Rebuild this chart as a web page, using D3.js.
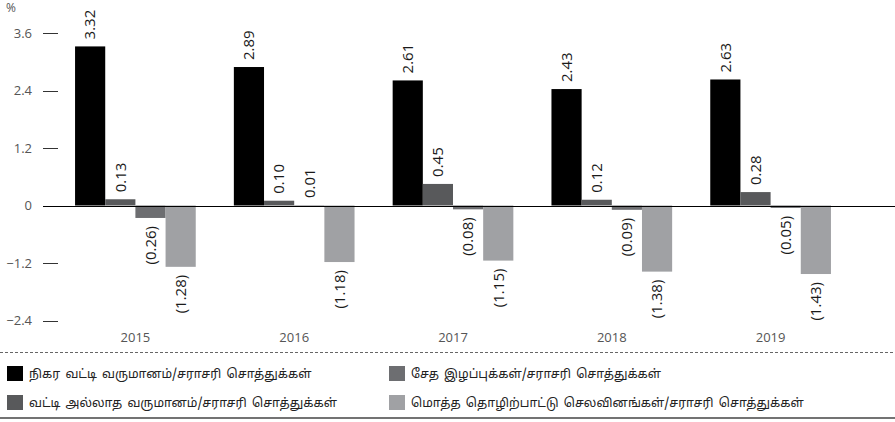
<!DOCTYPE html>
<html>
<head>
<meta charset="utf-8">
<script src="https://cdn.jsdelivr.net/npm/d3@7"></script>
<style>
  html, body { margin: 0; padding: 0; background: #fff; }
  svg { display: block; }
  .tamil { font-family: "Noto Sans Tamil", "Latha", "Lohit Tamil", "Noto Sans", sans-serif; }
</style>
</head>
<body>
<script>
// Ratios to average assets, per year
const years = ["2015", "2016", "2017", "2018", "2019"];
const netInterestIncome = [3.32, 2.89, 2.61, 2.43, 2.63];
const nonInterestIncome = [0.13, 0.10, 0.45, 0.12, 0.28];
const impairmentLosses  = [-0.26, 0.01, -0.08, -0.09, -0.05];
const operatingExpenses = [-1.28, -1.18, -1.15, -1.38, -1.43];
const yTicks = [-2.4, -1.2, 0, 1.2, 2.4, 3.6];

const seriesNames = [
  "நிகர வட்டி வருமானம்/சராசரி சொத்துக்கள்",
  "வட்டி அல்லாத வருமானம்/சராசரி சொத்துக்கள்",
  "சேத இழப்புக்கள்/சராசரி சொத்துக்கள்",
  "மொத்த தொழிற்பாட்டு செலவினங்கள்/சராசரி சொத்துக்கள்"
];
const seriesColors = ["#000000", "#58595b", "#6d6e71", "#a0a1a4"];
const seriesValues = [netInterestIncome, nonInterestIncome, impairmentLosses, operatingExpenses];

const W = 895, H = 422;
const svg = d3.select("body").append("svg").attr("width", W).attr("height", H);

const y = d3.scaleLinear().domain([-2.4, 3.6]).range([320.5, 33]);
const x0 = d3.scaleBand().domain(years).range([56, 850]).paddingInner(0.24).paddingOuter(0.12);
const x1 = d3.scaleBand().domain(d3.range(seriesValues.length)).range([0, x0.bandwidth()]).padding(0);

const numFont = "'Open Sans', 'Noto Sans', sans-serif";

// "%" unit
svg.append("text").attr("x", 6).attr("y", 12)
  .style("font-family", numFont).style("font-size", "12px").style("fill", "#555").text("%");

// Y axis ticks (short dashes left of the plot)
const yAxis = svg.append("g");
yAxis.selectAll("line").data(yTicks.filter(d => d !== 0)).join("line")
  .attr("x1", 43).attr("x2", 58)
  .attr("y1", d => Math.round(y(d)) + 0.5).attr("y2", d => Math.round(y(d)) + 0.5)
  .attr("stroke", "#333").attr("stroke-width", 1);
yAxis.selectAll("text").data(yTicks).join("text")
  .attr("x", 32).attr("y", d => y(d)).attr("dy", "0.35em")
  .attr("text-anchor", "end")
  .style("font-family", numFont).style("font-size", "13px").style("fill", "#555")
  .text(d => d === 0 ? "0" : d3.format(".1f")(d));

// Bars
const rows = years.map((yr, i) => ({ yr, vals: seriesValues.map((s, k) => ({ k, v: s[i] })) }));
const groups = svg.append("g").selectAll("g").data(rows).join("g")
  .attr("transform", d => `translate(${x0(d.yr)},0)`);

groups.selectAll("rect").data(d => d.vals).join("rect")
  .attr("x", d => x1(d.k))
  .attr("width", x1.bandwidth())
  .attr("y", d => y(Math.max(0, d.v)))
  .attr("height", d => Math.abs(y(d.v) - y(0)))
  .attr("fill", d => seriesColors[d.k]);

// Value labels, rotated
const fmt = v => v < 0 ? `(${d3.format(".2f")(-v)})` : d3.format(".2f")(v);
groups.selectAll("text").data(d => d.vals).join("text")
  .attr("transform", d => {
    const cx = x1(d.k) + x1.bandwidth() / 2;
    const cy = d.v >= 0 ? y(d.v) - 7 : y(d.v) + 8;
    return `translate(${cx},${cy}) rotate(-90)`;
  })
  .attr("dy", "0.35em")
  .attr("text-anchor", d => d.v >= 0 ? "start" : "end")
  .style("font-family", numFont).style("font-size", "15px").style("fill", "#1a1a1a")
  .text(d => fmt(d.v));

// Zero baseline
svg.append("line").attr("x1", 43).attr("x2", W)
  .attr("y1", Math.round(y(0)) + 0.5).attr("y2", Math.round(y(0)) + 0.5)
  .attr("stroke", "#000").attr("stroke-width", 1.2);

// Year labels
svg.append("g").selectAll("text").data(years).join("text")
  .attr("x", d => x0(d) + x0.bandwidth() / 2).attr("y", 342)
  .attr("text-anchor", "middle")
  .style("font-family", numFont).style("font-size", "13px").style("fill", "#555")
  .text(d => d);

// Dotted separator
svg.append("line").attr("x1", 0).attr("x2", W).attr("y1", 352.5).attr("y2", 352.5)
  .attr("stroke", "#666").attr("stroke-width", 1).attr("stroke-dasharray", "3,2");

// Legend: two columns, two rows
const legendPos = [
  { k: 0, x: 7, y: 366 },
  { k: 1, x: 7, y: 395 },
  { k: 2, x: 389, y: 366 },
  { k: 3, x: 389, y: 395 }
];
const legend = svg.append("g").selectAll("g").data(legendPos).join("g")
  .attr("transform", d => `translate(${d.x},${d.y})`);
legend.append("rect").attr("width", 16).attr("height", 15).attr("fill", d => seriesColors[d.k]);
legend.append("text").attr("class", "tamil")
  .attr("x", 22).attr("y", 7.5).attr("dy", "0.35em")
  .style("font-size", "12.4px").style("word-spacing", "2px").style("fill", "#222")
  .text(d => seriesNames[d.k]);

// Bottom rule
svg.append("line").attr("x1", 0).attr("x2", W).attr("y1", 418).attr("y2", 418)
  .attr("stroke", "#444").attr("stroke-width", 1.5);
</script>
</body>
</html>
